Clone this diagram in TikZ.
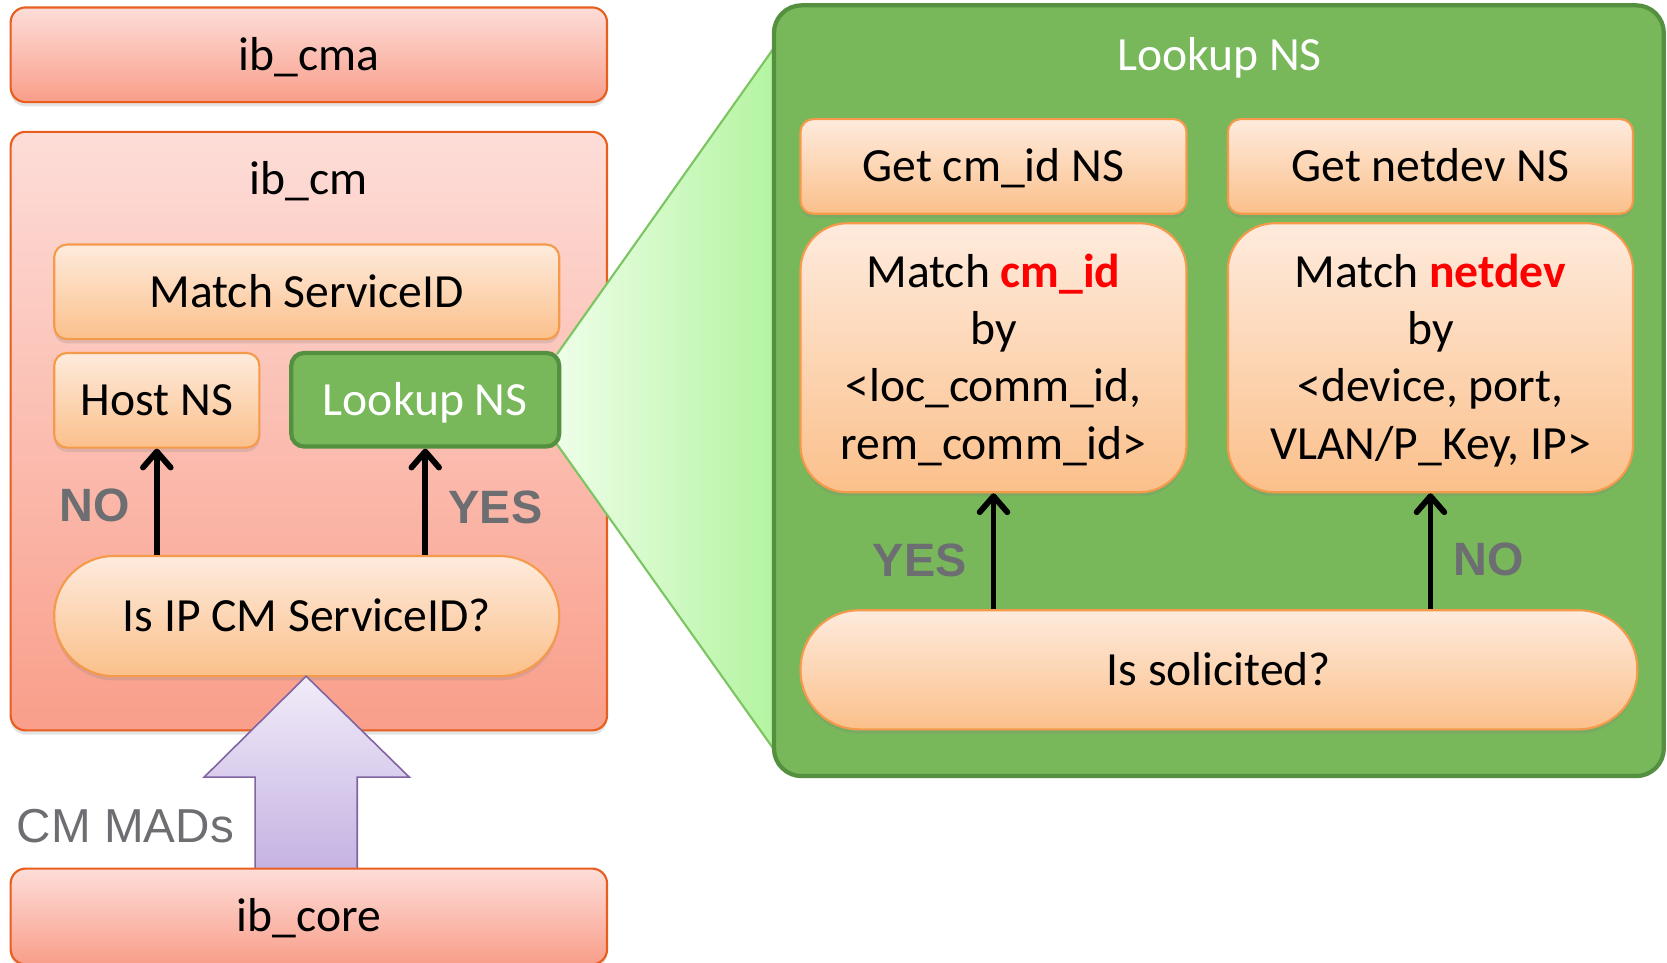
\documentclass[tikz,border=0pt]{standalone}
\usepackage{fontspec}
\setmainfont{Carlito}
\newfontfamily\arialfont{Liberation Sans}
\usetikzlibrary{shadows,arrows.meta}
\definecolor{pinkT}{HTML}{FDDDD8}
\definecolor{pinkD}{HTML}{F99E8A}
\definecolor{pinkB}{HTML}{E85E1E}
\definecolor{orT}{HTML}{FEEBDD}
\definecolor{orD}{HTML}{FBC08B}
\definecolor{orB}{HTML}{F59A4A}
\definecolor{grF}{HTML}{78B85B}
\definecolor{grB}{HTML}{558F40}
\definecolor{grayT}{HTML}{6D6E71}
\definecolor{puT}{HTML}{F1ECF9}
\definecolor{puD}{HTML}{C2AEE0}
\definecolor{puB}{HTML}{8064A2}
\definecolor{coneL}{HTML}{EEFEE8}
\definecolor{coneR}{HTML}{B3F4A0}
\definecolor{coneB}{HTML}{7CC562}
\newcommand\mainsize{\fontsize{44.8}{54}\selectfont}
\begin{document}
\begin{tikzpicture}[x=1pt,y=-1pt,
  txt/.style={font=\mainsize, text height=29pt, text depth=0pt, inner sep=0pt, align=center},
  shad/.style={drop shadow={shadow xshift=0pt, shadow yshift=-4pt, opacity=0.22}},
  pinkbox/.style={txt, draw=pinkB, line width=2pt, rounded corners=14pt, top color=pinkT, bottom color=pinkD, shad},
  orbox/.style={txt, draw=orB, line width=2pt, rounded corners=12pt, top color=orT, bottom color=orD, shad},
  greenbox/.style={txt, draw=grB, line width=4pt, rounded corners=12pt, fill=grF, text=white},
  flow/.style={line width=5.5pt, -{Straight Barb[length=15pt,width=26pt,round]}},
  yesno/.style={font=\arialfont\bfseries\fontsize{44}{50}\selectfont, text=grayT, inner sep=0pt},
]
\useasboundingbox (0,0) rectangle (1568,905);

% left column
\node[pinkbox, minimum width=561pt, minimum height=89pt] (ibcma) at (290.5,51.5) {ib\_cma};
\node[pinkbox, minimum width=561pt, minimum height=563pt] (ibcm) at (290.5,405.5) {};
\node[txt] (ibcmtitle) at (290,168) {ib\_cm};

% zoom cone
\path[left color=coneL, right color=coneR] (524,333) -- (728,45) -- (728,705) -- (524,418) -- cycle;
\draw[coneB, line width=2pt] (524,333) -- (728,45);
\draw[coneB, line width=2pt] (524,418) -- (728,705);

\node[orbox, minimum width=475pt, minimum height=89pt] (matchsid) at (288.5,274.5) {Match ServiceID};
\node[orbox, minimum width=193pt, minimum height=89pt] (hostns) at (147.5,376.5) {Host NS};
\node[greenbox, minimum width=252pt, minimum height=88pt] (lookupns) at (400,376) {Lookup NS};
\node[orbox, minimum width=475pt, minimum height=113pt, rounded corners=56pt] (isip) at (288.5,579.5) {Is IP CM ServiceID?};

\draw[flow] (isip.north -| hostns.south) -- (hostns.south);
\draw[flow] (isip.north -| lookupns.south) -- (lookupns.south);
\node[yesno] (no1) at (89,475) {NO};
\node[yesno] (yes1) at (466,477) {YES};

% big arrow CM MADs
\path[draw=puB, line width=1.5pt, top color=puT, bottom color=puD]
  (288,636) -- (385,731) -- (336,731) -- (336,830) -- (240,830) -- (240,731) -- (192,731) -- cycle;
\node[font=\arialfont\fontsize{44.8}{50}\selectfont, text=grayT, inner sep=0pt] (mads) at (118,777) {CM MADs};

\node[pinkbox, minimum width=561pt, minimum height=90pt] (ibcore) at (290.5,862) {ib\_core};

% right: Lookup NS detail
\node[draw=grB, line width=4pt, fill=grF, rounded corners=26pt, minimum width=837pt, minimum height=725pt] (bigns) at (1146.5,367.5) {};
\node[txt, text=white] (bigtitle) at (1147,52) {Lookup NS};

\node[orbox, minimum width=363pt, minimum height=89pt] (getcm) at (934.5,156.5) {Get cm\_id NS};
\node[orbox, minimum width=381pt, minimum height=89pt] (getnd) at (1345.5,156.5) {Get netdev NS};
\node[orbox, text height=191pt, minimum width=363pt, minimum height=253pt, rounded corners=44pt] (matchcm) at (934.5,336.5)
  {Match \textcolor{red}{\bfseries cm\_id}\\by\\<loc\_comm\_id,\\rem\_comm\_id>};
\node[orbox, text height=191pt, minimum width=381pt, minimum height=253pt, rounded corners=44pt] (matchnd) at (1345.5,336.5)
  {Match \textcolor{red}{\bfseries netdev}\\by\\<device, port,\\VLAN/P\_Key, IP>};
\node[orbox, minimum width=787pt, minimum height=112pt, rounded corners=55pt] (issol) at (1146.5,630) {Is solicited?};

\draw[flow] (issol.north -| matchcm.south) -- (matchcm.south);
\draw[flow] (issol.north -| matchnd.south) -- (matchnd.south);
\node[yesno] (yes2) at (865,527) {YES};
\node[yesno] (no2) at (1400,526) {NO};
\end{tikzpicture}
\end{document}
